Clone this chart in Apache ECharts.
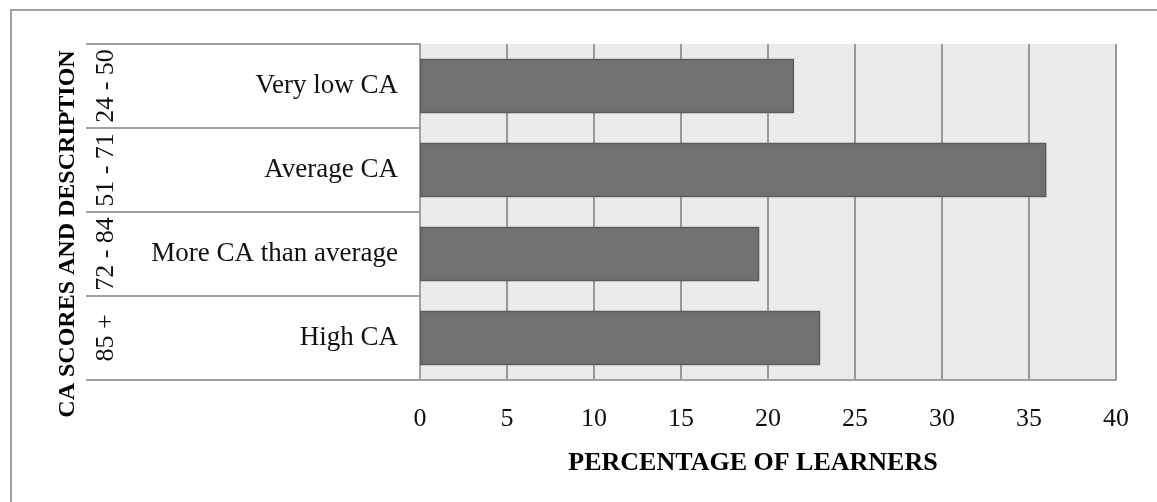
<!DOCTYPE html>
<html>
<head>
<meta charset="utf-8">
<script src="https://cdn.jsdelivr.net/npm/echarts@6/dist/echarts.min.js"></script>
<style>
html,body{margin:0;padding:0;background:#fff;}
#chart{width:1157px;height:502px;}
</style>
</head>
<body>
<div id="chart"></div>
<script>
var descriptions = ['Very low CA', 'Average CA', 'More CA than average', 'High CA'];
var scoreRanges = ['24 - 50', '51 - 71', '72 - 84', '85 +'];
var percentages = [21.5, 36, 19.5, 23];
var xTicks = {min: 0, max: 40, interval: 5};
var xTitle = 'PERCENTAGE OF LEARNERS';
var yTitle = 'CA SCORES AND DESCRIPTION';

var FONT = '"Liberation Serif", "Times New Roman", serif';
var GRAY = '#a0a0a0';

var chart = echarts.init(document.getElementById('chart'), null, {renderer: 'canvas'});
chart.setOption({
  animation: false,
  backgroundColor: '#ffffff',
  graphic: [{
    type: 'rect',
    z: -10,
    shape: {x: 11, y: 10, width: 1300, height: 700},
    style: {fill: 'none', stroke: GRAY, lineWidth: 2}
  }],
  grid: {
    left: 420, right: 41, top: 44, bottom: 122,
    show: true, backgroundColor: '#ebebeb', borderWidth: 0
  },
  xAxis: {
    type: 'value',
    min: xTicks.min, max: xTicks.max, interval: xTicks.interval,
    name: xTitle,
    nameLocation: 'middle',
    nameGap: 70,
    nameTextStyle: {fontFamily: FONT, fontWeight: 'bold', fontSize: 26, color: '#000', padding: [0, 30, 0, 0]},
    axisLine: {show: true, lineStyle: {color: GRAY, width: 2}},
    axisTick: {show: false},
    axisLabel: {fontFamily: FONT, fontSize: 26, color: '#111', margin: 26},
    splitLine: {show: true, lineStyle: {color: '#999999', width: 2}}
  },
  yAxis: [{
    type: 'category',
    data: descriptions,
    inverse: true,
    position: 'left',
    axisLine: {show: true, lineStyle: {color: GRAY, width: 2}},
    axisTick: {show: true, interval: 0, length: 334, lineStyle: {color: GRAY, width: 2}},
    axisLabel: {fontFamily: FONT, fontSize: 27, color: '#111', margin: 22, interval: 0, padding: [12, 0, 0, 0]},
    splitLine: {show: false}
  }, {
    type: 'category',
    data: scoreRanges,
    inverse: true,
    position: 'left',
    offset: 294,
    name: yTitle,
    nameLocation: 'middle',
    nameGap: 46,
    nameTextStyle: {fontFamily: FONT, fontWeight: 'bold', fontSize: 24, color: '#000', padding: [0, 44, 0, 0]},
    axisLine: {show: false},
    axisTick: {show: false},
    axisLabel: {fontFamily: FONT, fontSize: 26, color: '#111', rotate: 90, margin: 7, interval: 0},
    splitLine: {show: false}
  }],
  series: [{
    type: 'bar',
    yAxisIndex: 0,
    data: percentages,
    barWidth: '65%',
    itemStyle: {color: '#717171', borderColor: '#5c5c5c', borderWidth: 1.5}
  }]
});
</script>
</body>
</html>
